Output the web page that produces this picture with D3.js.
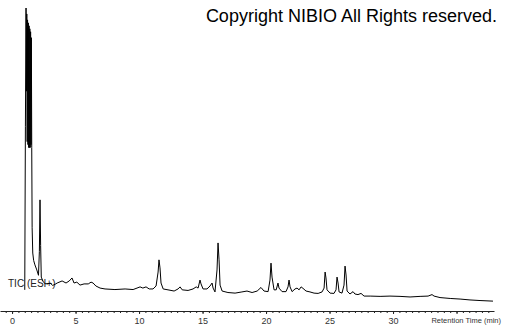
<!DOCTYPE html>
<html>
<head>
<meta charset="utf-8">
<script src="https://cdn.jsdelivr.net/npm/d3@7"></script>
<style>
	body { margin: 0; background: #fff; }
	svg { display: block; }
</style>
</head>
<body>
<div id="chart"></div>
<script>
// retention time (min) and relative intensity (%)
const retentionTime = [
	1.00, 1.05, 1.10, 1.13, 1.16, 1.19, 1.22, 1.25, 1.28, 1.31, 1.34, 1.37, 1.40, 1.43, 1.46, 1.49, 1.52, 1.55,
	1.58, 1.63, 1.70, 1.80, 1.95, 2.08, 2.15, 2.20, 2.25, 2.30, 2.45, 2.60, 2.80, 3.00, 3.20, 3.40, 3.55,
	3.94, 4.25, 4.50, 4.72, 4.88, 5.10, 5.35, 5.67, 6.00, 6.22, 6.38, 6.60, 6.93, 7.32, 8.10, 8.90, 9.53,
	9.84, 10.08, 10.30, 10.55, 10.80, 11.10, 11.34, 11.50, 11.57, 11.65, 11.73, 11.90, 12.28, 12.76, 13.07,
	13.23, 13.40, 13.86, 14.25, 14.50, 14.65, 14.80, 14.88, 15.04, 15.35, 15.59, 15.75, 15.83, 15.98, 16.14,
	16.22, 16.30, 16.38, 16.54, 17.00, 17.56, 18.10, 18.50, 18.90, 19.30, 19.60, 19.84, 20.16, 20.31, 20.39,
	20.47, 20.63, 20.80, 20.94, 21.02, 21.26, 21.57, 21.73, 21.81, 21.89, 22.05, 22.28, 22.44, 22.60, 22.76,
	22.91, 23.15, 23.46, 23.78, 24.10, 24.41, 24.57, 24.65, 24.72, 24.80, 25.04, 25.35, 25.51, 25.59, 25.67,
	25.75, 25.98, 26.14, 26.22, 26.30, 26.38, 26.61, 26.85, 27.00, 27.24, 27.48, 27.72, 28.20, 28.98, 29.76,
	30.55, 31.34, 32.13, 32.76, 33.07, 33.23, 33.70, 34.50, 35.28, 36.06, 36.85, 37.87
];
const intensity = [
	5.1, 60, 100, 72, 98, 55, 96, 54, 95, 53, 94, 53, 93, 53, 92, 54, 90, 53,
	26, 17.5, 15, 13.5, 11.8, 10, 18, 35.4, 20, 9.4, 7.8, 7.2, 7.1, 7.4, 6.6, 7.0, 7.4,
	8.1, 7.4, 8.1, 9.1, 7.4, 7.7, 6.7, 7.1, 7.1, 7.7, 7.4, 6.4, 5.7, 5.4, 5.2, 5.4, 5.2,
	5.7, 6.1, 5.7, 6.1, 5.4, 5.4, 6.4, 11.1, 15.2, 12.5, 7.4, 5.4, 5.1, 4.7, 5.4,
	6.1, 5.1, 4.9, 5.4, 6.1, 5.7, 8.4, 7.1, 5.4, 5.4, 6.4, 7.4, 5.7, 4.4, 11.8,
	20.9, 15.2, 6.7, 4.7, 4.2, 4.0, 4.4, 4.7, 4.2, 4.7, 5.9, 4.7, 4.5, 8.4, 14.1,
	9.4, 5.1, 5.1, 7.4, 5.7, 4.5, 4.5, 6.1, 8.4, 6.1, 4.5, 5.4, 5.7, 5.1, 6.1,
	5.6, 4.7, 4.4, 4.0, 3.9, 4.4, 5.7, 11.1, 9.1, 5.1, 4.0, 3.9, 5.1, 9.4, 7.4,
	4.4, 4.0, 6.7, 13.1, 10.1, 4.7, 3.7, 4.5, 3.7, 3.5, 3.9, 3.0, 3.0, 2.9, 3.0,
	2.9, 2.7, 2.9, 3.0, 3.5, 3.0, 2.5, 2.2, 2.0, 1.7, 1.5, 1.3
];

const majorTicks = [0, 5, 10, 15, 20, 25, 30, 35];
const tickLabels = ['0', '5', '10', '15', '20', '25', '30', ''];
const minorTicks = d3.range(-0.5, 38, 0.5);

const traceLabel = 'TIC (ESI+)';
const axisTitle = 'Retention Time (min)';
const copyright = 'Copyright NIBIO All Rights reserved.';

const width = 505;
const height = 325;
const axisY = 311;

const svg = d3.select('#chart').append('svg')
	.attr('width', width)
	.attr('height', height)
	.style('background', '#fff');

const x = d3.scaleLinear()
	.domain([-0.95, 37.95])
	.range([0, 494]);
const y = d3.scaleLinear()
	.domain([0, 100])
	.range([305, 8]);

// minor ticks first, then major ticks with labels
svg.append('g')
	.attr('transform', `translate(0, ${axisY})`)
	.call(d3.axisBottom(x).tickValues(minorTicks).tickSize(2).tickSizeOuter(0).tickFormat(''))
	.call(g => g.selectAll('line, path').attr('stroke', '#222'));

svg.append('g')
	.attr('transform', `translate(0, ${axisY})`)
	.call(d3.axisBottom(x).tickValues(majorTicks).tickSize(3).tickSizeOuter(0).tickPadding(4)
		.tickFormat((d, i) => tickLabels[i]))
	.call(g => g.select('.domain').remove())
	.call(g => g.selectAll('line').attr('stroke', '#222'))
	.call(g => g.selectAll('text')
		.attr('fill', '#333')
		.style('font-family', '"Liberation Sans", Arial, sans-serif')
		.style('font-size', '9px'));

svg.append('text')
	.attr('x', 501)
	.attr('y', 323)
	.attr('text-anchor', 'end')
	.attr('fill', '#333')
	.style('font-family', '"Liberation Sans", Arial, sans-serif')
	.style('font-size', '7.5px')
	.text(axisTitle);

svg.append('text')
	.attr('x', 8)
	.attr('y', 287)
	.attr('fill', '#222')
	.style('font-family', '"Liberation Sans", Arial, sans-serif')
	.style('font-size', '10px')
	.text(traceLabel);

const points = retentionTime.map((t, i) => [t, intensity[i]]);
const line = d3.line()
	.x(d => x(d[0]))
	.y(d => y(d[1]));

svg.append('path')
	.datum(points)
	.attr('fill', 'none')
	.attr('stroke', '#000')
	.attr('stroke-width', 1)
	.attr('d', line);

svg.append('text')
	.attr('x', 497)
	.attr('y', 22)
	.attr('text-anchor', 'end')
	.attr('fill', '#000')
	.style('font-family', '"Liberation Sans", Arial, sans-serif')
	.style('font-size', '18px')
	.text(copyright);
</script>
</body>
</html>
